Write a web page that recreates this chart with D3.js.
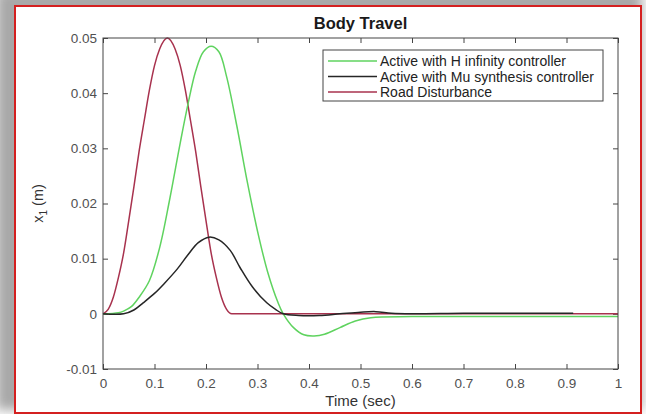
<!DOCTYPE html>
<html>
<head>
<meta charset="utf-8">
<script src="https://cdn.jsdelivr.net/npm/d3@7"></script>
<style>
  body { margin: 0; background: #fff; }
  svg { display: block; font-family: "Liberation Sans", Arial, sans-serif; }
</style>
</head>
<body>
<script>
//values
var xTicks = [0, 0.1, 0.2, 0.3, 0.4, 0.5, 0.6, 0.7, 0.8, 0.9, 1];
var yTicks = [-0.01, 0, 0.01, 0.02, 0.03, 0.04, 0.05];
var seriesNames = ["Active with H infinity controller", "Active with Mu synthesis controller", "Road Disturbance"];

var tHinf = [0, 0.03, 0.04, 0.055, 0.07, 0.09, 0.11, 0.13, 0.15, 0.165, 0.18, 0.195, 0.21, 0.225, 0.24, 0.26, 0.28, 0.30, 0.32, 0.34, 0.35, 0.37, 0.39, 0.41, 0.43, 0.46, 0.49, 0.52, 0.6, 0.8, 1.0];
var hinf = [0, 0.0002, 0.0005, 0.0013, 0.003, 0.006, 0.012, 0.021, 0.031, 0.038, 0.044, 0.0475, 0.0485, 0.0475, 0.043, 0.034, 0.024, 0.015, 0.0075, 0.002, 0, -0.0025, -0.0038, -0.004, -0.0037, -0.0025, -0.0013, -0.0007, -0.0005, -0.0005, -0.0005];

var tMu = [0, 0.04, 0.06, 0.078, 0.1, 0.12, 0.144, 0.165, 0.185, 0.206, 0.225, 0.247, 0.266, 0.29, 0.318, 0.335, 0.35, 0.38, 0.42, 0.46, 0.5, 0.53, 0.56, 0.6, 0.7, 0.8, 0.913];
var mu = [0, 0, 0.0007, 0.002, 0.0037, 0.0056, 0.0081, 0.0107, 0.0129, 0.0139, 0.0134, 0.0115, 0.0084, 0.0049, 0.002, 0.0008, 0, -0.0003, -0.0003, 0, 0.0003, 0.0004, 0.0001, 0, 0.0001, 0.0001, 0.0001];

var tRoad = [0, 0.01, 0.02, 0.03, 0.04, 0.05, 0.06, 0.07, 0.08, 0.09, 0.1, 0.11, 0.125, 0.14, 0.15, 0.16, 0.17, 0.18, 0.19, 0.2, 0.21, 0.22, 0.23, 0.24, 0.25, 0.5, 0.75, 1.0];
var road = [0, 0.0008, 0.003, 0.0066, 0.011, 0.0169, 0.023, 0.0294, 0.035, 0.0405, 0.045, 0.048, 0.05, 0.048, 0.045, 0.0405, 0.035, 0.0294, 0.023, 0.0169, 0.011, 0.0066, 0.003, 0.0008, 0, 0, 0, 0];

drawChart();

function drawChart() {
    var width = 646,
        height = 414;

    var svg = d3.select("body")
        .append("svg")
        .attr("width", width)
        .attr("height", height);

    //drop shadow behind the red frame
    var defs = svg.append("defs");
    defs.append("filter")
        .attr("id", "shadow")
        .attr("x", "-10%").attr("y", "-10%")
        .attr("width", "120%").attr("height", "120%")
        .append("feGaussianBlur")
        .attr("stdDeviation", 6);

    svg.append("rect")
        .attr("x", -4).attr("y", -10)
        .attr("width", 646).attr("height", 420)
        .attr("fill", "#a8a8a8")
        .attr("filter", "url(#shadow)");

    svg.append("rect")
        .attr("x", 15).attr("y", 6)
        .attr("width", 626).attr("height", 407)
        .attr("fill", "#fff")
        .attr("stroke", "#d42020")
        .attr("stroke-width", 2);

    //plot area
    var plotLeft = 103, plotRight = 618, plotTop = 38, plotBottom = 369;

    var x = d3.scaleLinear().domain([0, 1]).range([plotLeft, plotRight]);
    var y = d3.scaleLinear().domain([-0.01, 0.05]).range([plotBottom, plotTop]);

    var axisColor = "#454545";

    function styleAxis(g) {
        g.select(".domain").remove();
        g.selectAll(".tick line").attr("stroke", axisColor);
        g.selectAll(".tick text")
            .attr("fill", "#505050")
            .style("font-size", "13.5px")
            .style("font-family", "'Liberation Sans', Arial, sans-serif");
    }

    svg.append("g")
        .attr("transform", "translate(0," + plotBottom + ")")
        .call(d3.axisBottom(x).tickValues(xTicks).tickSize(-5).tickPadding(9)
            .tickFormat(function(d) { return (d === 0 || d === 1) ? String(d) : d.toFixed(1); }))
        .call(styleAxis);

    svg.append("g")
        .attr("transform", "translate(0," + plotTop + ")")
        .call(d3.axisTop(x).tickValues(xTicks).tickSize(-5).tickFormat(""))
        .call(styleAxis);

    svg.append("g")
        .attr("transform", "translate(" + plotLeft + ",0)")
        .call(d3.axisLeft(y).tickValues(yTicks).tickSize(-5).tickPadding(6)
            .tickFormat(function(d) { return Math.abs(d) < 1e-9 ? "0" : d.toFixed(2); }))
        .call(styleAxis);

    svg.append("g")
        .attr("transform", "translate(" + plotRight + ",0)")
        .call(d3.axisRight(y).tickValues(yTicks).tickSize(-5).tickFormat(""))
        .call(styleAxis);

    //curves: smooth spline for the responses, monotone for the road bump (no overshoot)
    function makeLine(curve) {
        return d3.line()
            .x(function(d) { return x(d[0]); })
            .y(function(d) { return y(d[1]); })
            .curve(curve);
    }

    var series = [
        { t: tRoad, v: road, color: "#a8324e", curve: d3.curveMonotoneX },
        { t: tHinf, v: hinf, color: "#5fd35f", curve: d3.curveCatmullRom.alpha(0.5) },
        { t: tMu, v: mu, color: "#262626", curve: d3.curveCatmullRom.alpha(0.5) }
    ];

    var plot = svg.append("g");
    series.forEach(function(s) {
        plot.append("path")
            .datum(d3.zip(s.t, s.v))
            .attr("fill", "none")
            .attr("stroke", s.color)
            .attr("stroke-width", 1.5)
            .attr("d", makeLine(s.curve));
    });

    //axes box
    svg.append("rect")
        .attr("x", plotLeft).attr("y", plotTop)
        .attr("width", plotRight - plotLeft).attr("height", plotBottom - plotTop)
        .attr("fill", "none")
        .attr("stroke", axisColor)
        .attr("stroke-width", 1);

    //title and labels
    svg.append("text")
        .attr("x", (plotLeft + plotRight) / 2).attr("y", 29)
        .attr("text-anchor", "middle")
        .style("font-size", "16.5px")
        .style("font-weight", "bold")
        .attr("fill", "#1a1a1a")
        .text("Body Travel");

    svg.append("text")
        .attr("x", (plotLeft + plotRight) / 2).attr("y", 406)
        .attr("text-anchor", "middle")
        .style("font-size", "15px")
        .attr("fill", "#333")
        .text("Time (sec)");

    var ylab = svg.append("text")
        .attr("transform", "translate(43," + ((plotTop + plotBottom) / 2) + ") rotate(-90)")
        .attr("text-anchor", "middle")
        .style("font-size", "14.5px")
        .attr("fill", "#333");
    ylab.append("tspan").text("x");
    ylab.append("tspan").attr("dy", 4).style("font-size", "10px").text("1");
    ylab.append("tspan").attr("dy", -4).text(" (m)");

    //legend
    var legendColors = ["#5fd35f", "#262626", "#a8324e"];
    var legend = svg.append("g");
    legend.append("rect")
        .attr("x", 323).attr("y", 50)
        .attr("width", 280).attr("height", 51)
        .attr("fill", "#fff")
        .attr("stroke", axisColor)
        .attr("stroke-width", 1);

    seriesNames.forEach(function(name, i) {
        var yy = 61 + i * 15.5;
        legend.append("line")
            .attr("x1", 328).attr("x2", 377)
            .attr("y1", yy).attr("y2", yy)
            .attr("stroke", legendColors[i])
            .attr("stroke-width", 1.5);
        legend.append("text")
            .attr("x", 380).attr("y", yy + 5)
            .style("font-size", "14px")
            .attr("fill", "#222")
            .text(name);
    });
}
</script>
</body>
</html>
